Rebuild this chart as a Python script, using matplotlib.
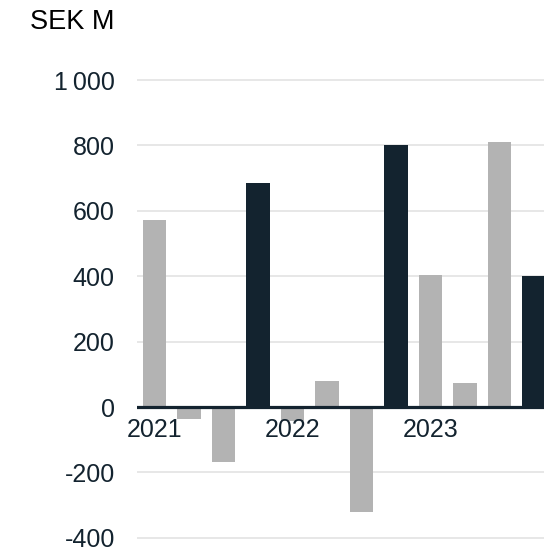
import numpy as np
import matplotlib
matplotlib.use("Agg")
import matplotlib.pyplot as plt

plt.rcParams['font.family'] = ['Liberation Sans', 'DejaVu Sans']

quarters = ['Q1 2021', 'Q2 2021', 'Q3 2021', 'Q4 2021',
            'Q1 2022', 'Q2 2022', 'Q3 2022', 'Q4 2022',
            'Q1 2023', 'Q2 2023', 'Q3 2023', 'Q4 2023']
values = [572, -37, -168, 685, -43, 80, -321, 801, 404, 73, 810, 400]
is_dark = [False, False, False, True, False, False, False, True, False, False, False, True]
year_labels = ['2021', '2022', '2023']
year_pos = [0, 4, 8]
yticks = [-400, -200, 0, 200, 400, 600, 800, 1000]
ytick_labels = ['-400', '-200', '0', '200', '400', '600', '800', '1\u2009000']

dark = '#13232f'
grey = '#b3b3b3'

fig = plt.figure(figsize=(5.44, 5.47), dpi=100)
ax = fig.add_axes([137 / 544, 0, 1 - 137 / 544, 497 / 547])

x = np.arange(len(values))
colors = [dark if d else grey for d in is_dark]
ax.bar(x, values, width=0.67, color=colors, zorder=2)

ax.set_ylim(-428, 1092)
ax.set_xlim(-0.507, 11.29)
ax.set_yticks(yticks)
ax.set_yticklabels(ytick_labels)
ax.tick_params(axis='y', length=0, pad=16, labelsize=18, labelcolor=dark)
ax.set_xticks([])
for s in ax.spines.values():
    s.set_visible(False)
for t in yticks:
    if t != 0:
        ax.axhline(t, color='#e3e3e3', lw=1.2, zorder=1)
ax.axhline(0, color=dark, lw=2.3, zorder=3)

for p, lab in zip(year_pos, year_labels):
    ax.text(p, -32, lab, ha='center', va='top', fontsize=18, color=dark)

fig.text(30 / 544, 1 - 22 / 547, 'SEK M', ha='left', va='center', fontsize=19.5, color='black')

fig.savefig('out.png', dpi=100)
